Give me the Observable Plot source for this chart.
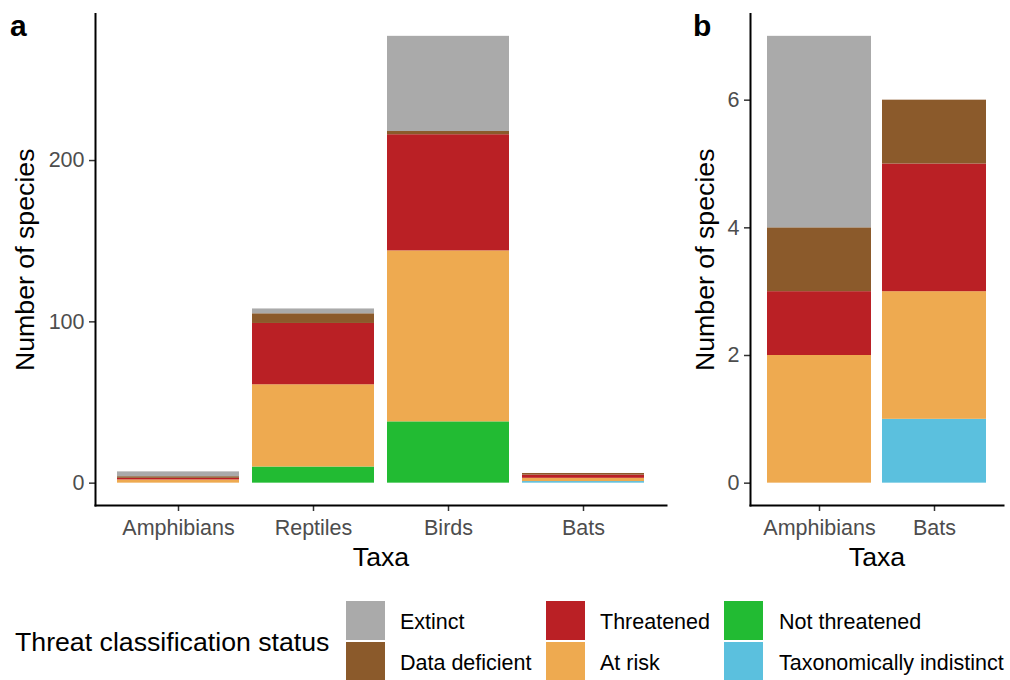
<!DOCTYPE html>
<html>
<head>
<meta charset="utf-8">
<script src="https://cdn.jsdelivr.net/npm/d3@7"></script>
<script src="https://cdn.jsdelivr.net/npm/@observablehq/plot@0.6"></script>
<style>
  body { margin: 0; background: #fff; font-family: "Liberation Sans", Arial, Helvetica, sans-serif; }
  #wrap { position: relative; width: 1010px; height: 680px; overflow: hidden; }
  #pa { position: absolute; left: 0; top: 0; }
  #pb { position: absolute; left: 680px; top: 0; }
  .plab { position: absolute; font-weight: bold; font-size: 30px; line-height: 1; color: #000; }
  .ltitle { position: absolute; left: 15px; top: 624px; font-size: 26.7px; line-height: 36px; color: #000; white-space: nowrap; }
  .key { position: absolute; width: 39px; height: 39px; }
  .ltext { position: absolute; font-size: 21.5px; line-height: 39px; height: 39px; color: #000; white-space: nowrap; }
</style>
</head>
<body>
<div id="wrap">
  <div id="pa"></div>
  <div id="pb"></div>
  <div class="plab" style="left:10px; top:11px;">a</div>
  <div class="plab" style="left:693px; top:11px;">b</div>
  <div id="legend"></div>
</div>
<script>
// ---- Data ----
const taxa = ["Amphibians", "Reptiles", "Birds", "Bats"];
const taxaB = ["Amphibians", "Bats"];
const legendOrder = ["Extinct", "Data deficient", "Threatened", "At risk", "Not threatened", "Taxonomically indistinct"];
const stackOrder = ["Taxonomically indistinct", "Not threatened", "At risk", "Threatened", "Data deficient", "Extinct"];
const statusColors = ["#AAAAAA", "#8B5A2B", "#BA2025", "#EEAA50", "#22BB33", "#5BC0DE"];

// counts per taxon (Amphibians, Reptiles, Birds, Bats)
const extinct        = [3, 3, 59, 0];
const dataDeficient  = [1, 6, 2, 1];
const threatened     = [1, 38, 72, 2];
const atRisk         = [2, 51, 106, 2];
const notThreatened  = [0, 10, 38, 0];
const taxIndistinct  = [0, 0, 0, 1];

const yTicksA = [0, 100, 200];
const yTicksB = [0, 2, 4, 6];

const seriesByStatus = {
  "Extinct": extinct,
  "Data deficient": dataDeficient,
  "Threatened": threatened,
  "At risk": atRisk,
  "Not threatened": notThreatened,
  "Taxonomically indistinct": taxIndistinct
};

const rows = [];
taxa.forEach((t, i) => {
  stackOrder.forEach(s => rows.push({ taxon: t, status: s, n: seriesByStatus[s][i] }));
});
const rowsB = rows.filter(d => taxaB.includes(d.taxon));

const font = '"Liberation Sans", Arial, Helvetica, sans-serif';

function panel(data, xDomain, yTicks, width, ml, mr, labelDx) {
  const maxTotal = d3.max(d3.rollup(data, v => d3.sum(v, d => d.n), d => d.taxon).values());
  const pad = maxTotal * 0.05;
  return Plot.plot({
    width, height: 580,
    marginLeft: ml, marginRight: mr, marginTop: 13.5, marginBottom: 75,
    style: { fontFamily: font, background: "white", overflow: "visible" },
    x: { domain: xDomain, paddingInner: 0.1, paddingOuter: 0.15, label: null },
    y: { domain: [-pad, maxTotal + pad], label: null },
    color: { domain: legendOrder, range: statusColors },
    marks: [
      Plot.barY(data, { x: "taxon", y: "n", fill: "status", z: "status", order: stackOrder }),
      Plot.axisX({ tickSize: 6, tickPadding: 8, fontSize: 21.5, fill: "#4D4D4D", stroke: "#333", strokeWidth: 1.5, label: null }),
      Plot.axisY({ ticks: yTicks, tickSize: 6, tickPadding: 5, fontSize: 21.5, fill: "#4D4D4D", stroke: "#333", strokeWidth: 1.5, label: null }),
      Plot.frame({ anchor: "left", stroke: "black", strokeWidth: 2 }),
      Plot.frame({ anchor: "bottom", stroke: "black", strokeWidth: 2 }),
      Plot.text(["Number of species"], { frameAnchor: "left", textAnchor: "middle", rotate: -90, dx: labelDx, fontSize: 26.7, fill: "black" }),
      Plot.text(["Taxa"], { frameAnchor: "bottom", textAnchor: "middle", dy: 60, fontSize: 26.7, fill: "black" })
    ]
  });
}

document.getElementById("pa").appendChild(panel(rows, taxa, yTicksA, 680, 95, 14, -70));
document.getElementById("pb").appendChild(panel(rowsB, taxaB, yTicksB, 330, 70, 7, -45));

// ---- Legend ----
const legend = document.getElementById("legend");
const t = document.createElement("div");
t.className = "ltitle";
t.textContent = "Threat classification status";
legend.appendChild(t);
const colKeyX = [346, 546, 724];
const colTextX = [400, 600, 779];
const rowY = [601, 642];
legendOrder.forEach((s, i) => {
  const c = Math.floor(i / 2), r = i % 2;
  const k = document.createElement("div");
  k.className = "key";
  k.style.left = colKeyX[c] + "px";
  k.style.top = rowY[r] + "px";
  k.style.background = statusColors[i];
  legend.appendChild(k);
  const tx = document.createElement("div");
  tx.className = "ltext";
  tx.style.left = colTextX[c] + "px";
  tx.style.top = (rowY[r] + 2) + "px";
  tx.textContent = s;
  legend.appendChild(tx);
});
</script>
</body>
</html>
